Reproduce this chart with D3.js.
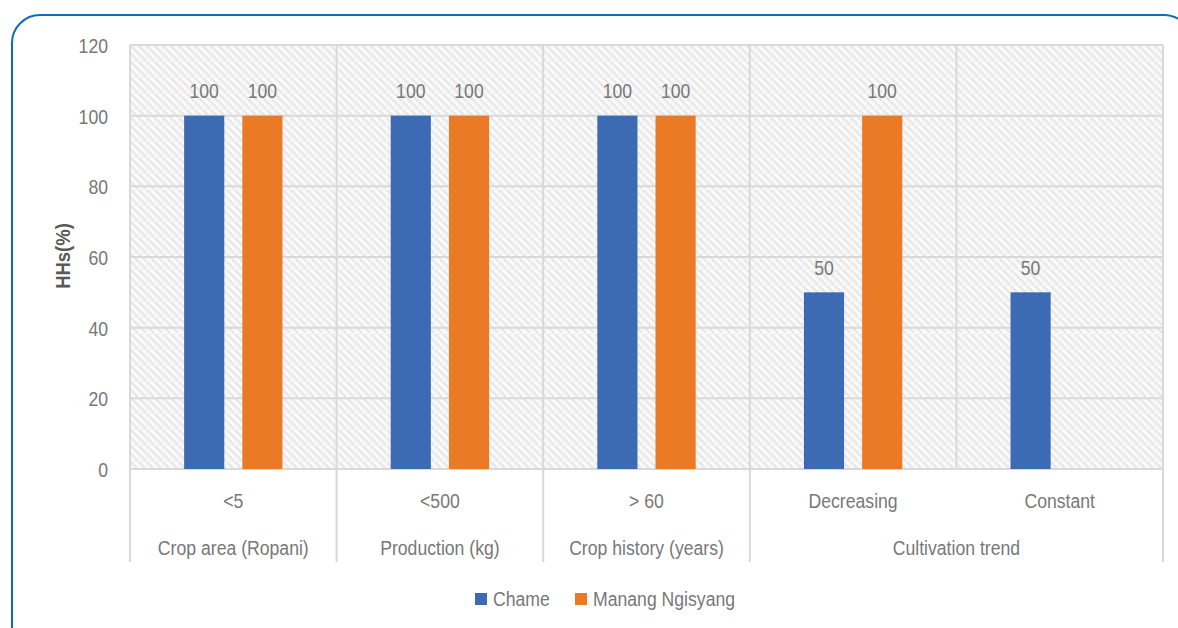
<!DOCTYPE html>
<html>
<head>
<meta charset="utf-8">
<script src="https://cdn.jsdelivr.net/npm/d3@7"></script>
<style>
  html, body { margin: 0; padding: 0; background: #fff; }
  svg { display: block; }
  text { font-family: "Liberation Sans", Arial, sans-serif; }
</style>
</head>
<body>
<svg id="chart" width="1178" height="628"></svg>
<script>
// Household responses by crop attribute, per village
const groups = ["Crop area (Ropani)", "Production (kg)", "Crop history (years)", "Cultivation trend"];
const categories = ["<5", "<500", "> 60", "Decreasing", "Constant"];
const categoryGroup = [0, 1, 2, 3, 3];
const seriesNames = ["Chame", "Manang Ngisyang"];
const chame = [100, 100, 100, 50, 50];
const manang = [100, 100, 100, 100, null];
const yTicks = [0, 20, 40, 60, 80, 100, 120];
const colors = ["#3D6BB3", "#EA7A26"];

const svg = d3.select("#chart");
const plot = { left: 130, right: 1163, top: 45, bottom: 469 };
const textColor = "#787878";
const gridColor = "#d9d9d9";
const narrow = 0.84;   // horizontal squeeze for a condensed look
const fs = 21;

// Place a text element at (x, y) with condensed glyphs
function put(sel, x, y, rot = 0, sx = narrow) {
  sel.attr("x", 0).attr("y", 0)
    .attr("transform", `translate(${x},${y}) rotate(${rot}) scale(${sx},1)`);
  return sel;
}

// Outer frame
svg.append("rect")
  .attr("x", 12).attr("y", 15)
  .attr("width", 1180).attr("height", 640)
  .attr("rx", 28).attr("ry", 28)
  .attr("fill", "#fff")
  .attr("stroke", "#0F6CBD").attr("stroke-width", 2);

// Hatched plot-area fill
const defs = svg.append("defs");
const pat = defs.append("pattern")
  .attr("id", "hatch")
  .attr("patternUnits", "userSpaceOnUse")
  .attr("width", 16).attr("height", 16)
  .attr("x", plot.left).attr("y", plot.top);
pat.append("rect").attr("width", 16).attr("height", 16).attr("fill", "#fafafa");
[-16, -8, 0, 8, 16].forEach(o => {
  pat.append("line")
    .attr("x1", o).attr("y1", 0).attr("x2", o + 16).attr("y2", 16)
    .attr("stroke", "#e8e8e8").attr("stroke-width", 2.4);
});
pat.append("line").attr("x1", 0).attr("y1", 0.5).attr("x2", 16).attr("y2", 0.5)
  .attr("stroke", "#f4f4f4").attr("stroke-width", 1);
pat.append("line").attr("x1", 0.5).attr("y1", 0).attr("x2", 0.5).attr("y2", 16)
  .attr("stroke", "#f4f4f4").attr("stroke-width", 1);

svg.append("rect")
  .attr("x", plot.left).attr("y", plot.top)
  .attr("width", plot.right - plot.left).attr("height", plot.bottom - plot.top)
  .attr("fill", "url(#hatch)");

// Scales
const x = d3.scaleBand().domain(categories).range([plot.left, plot.right]).padding(0);
const inner = d3.scaleBand().domain(seriesNames).range([0, x.bandwidth()])
  .paddingInner(0.31).paddingOuter(0.93);
const y = d3.scaleLinear().domain([0, 120]).range([plot.bottom, plot.top]);

// Horizontal gridlines
svg.append("g")
  .selectAll("line").data(yTicks).join("line")
  .attr("x1", plot.left).attr("x2", plot.right)
  .attr("y1", d => y(d)).attr("y2", d => y(d))
  .attr("stroke", gridColor).attr("stroke-width", 2);

// Vertical category separators inside the plot
const sepX = categories.map(c => x(c)).concat([plot.right]);
svg.append("g")
  .selectAll("line").data(sepX).join("line")
  .attr("x1", d => d).attr("x2", d => d)
  .attr("y1", plot.top).attr("y2", plot.bottom)
  .attr("stroke", gridColor).attr("stroke-width", 2);

// Multi-level axis: group boundaries run through both label rows
const groupBounds = groups.map((g, gi) => {
  const idx = categoryGroup.map((v, i) => v === gi ? i : -1).filter(i => i >= 0);
  return {
    name: g,
    x0: x(categories[idx[0]]),
    x1: x(categories[idx[idx.length - 1]]) + x.bandwidth()
  };
});
const boundX = [groupBounds[0].x0].concat(groupBounds.map(b => b.x1));
svg.append("g")
  .selectAll("line").data(boundX).join("line")
  .attr("x1", d => d).attr("x2", d => d)
  .attr("y1", plot.bottom).attr("y2", 562)
  .attr("stroke", gridColor).attr("stroke-width", 2);

// Bars and value labels
const series = [chame, manang];
series.forEach((vals, si) => {
  const rows = categories.map((c, i) => ({ c, v: vals[i] })).filter(d => d.v != null);
  svg.append("g")
    .selectAll("rect").data(rows).join("rect")
    .attr("x", d => x(d.c) + inner(seriesNames[si]))
    .attr("y", d => y(d.v))
    .attr("width", inner.bandwidth())
    .attr("height", d => y(0) - y(d.v))
    .attr("fill", colors[si]);
  svg.append("g")
    .selectAll("text").data(rows).join("text")
    .each(function (d) {
      put(d3.select(this), x(d.c) + inner(seriesNames[si]) + inner.bandwidth() / 2, y(d.v) - 25);
    })
    .attr("dy", "0.35em")
    .attr("text-anchor", "middle")
    .attr("font-size", fs)
    .attr("fill", textColor)
    .text(d => d.v);
});

// Y axis tick labels
const yAxis = d3.axisLeft(y).tickValues(yTicks).tickSize(0).tickPadding(22);
const gy = svg.append("g").attr("transform", `translate(${plot.left},0)`).call(yAxis);
gy.select(".domain").remove();
gy.selectAll(".tick text")
  .attr("font-size", fs)
  .attr("fill", textColor)
  .attr("dy", "0.35em")
  .style("font-family", '"Liberation Sans", Arial, sans-serif')
  .each(function () { put(d3.select(this), -22, 0); });

// Y axis title
put(svg.append("text"), 63, 256, -90, 0.88)
  .attr("text-anchor", "middle")
  .attr("dy", "0.35em")
  .attr("font-size", 21)
  .attr("font-weight", "bold")
  .attr("fill", "#595959")
  .text("HHs(%)");

// Category labels (first row)
const xAxis = d3.axisBottom(x).tickSize(0).tickPadding(0);
const gx = svg.append("g").attr("transform", `translate(0,${plot.bottom})`).call(xAxis);
gx.select(".domain").remove();
gx.selectAll(".tick text")
  .attr("font-size", fs)
  .attr("fill", textColor)
  .attr("dy", "0.35em")
  .style("font-family", '"Liberation Sans", Arial, sans-serif')
  .each(function () { put(d3.select(this), 0, 32); });

// Group labels (second row)
svg.append("g")
  .selectAll("text").data(groupBounds).join("text")
  .each(function (d) { put(d3.select(this), (d.x0 + d.x1) / 2, 548); })
  .attr("dy", "0.35em")
  .attr("text-anchor", "middle")
  .attr("font-size", fs)
  .attr("fill", textColor)
  .text(d => d.name);

// Legend
const legendItems = [
  { name: seriesNames[0], color: colors[0], x: 475 },
  { name: seriesNames[1], color: colors[1], x: 575 }
];
const lg = svg.append("g");
legendItems.forEach(it => {
  lg.append("rect").attr("x", it.x).attr("y", 593).attr("width", 12).attr("height", 12).attr("fill", it.color);
  put(lg.append("text"), it.x + 18, 599)
    .attr("dy", "0.35em")
    .attr("font-size", fs)
    .attr("fill", textColor)
    .text(it.name);
});
</script>
</body>
</html>
